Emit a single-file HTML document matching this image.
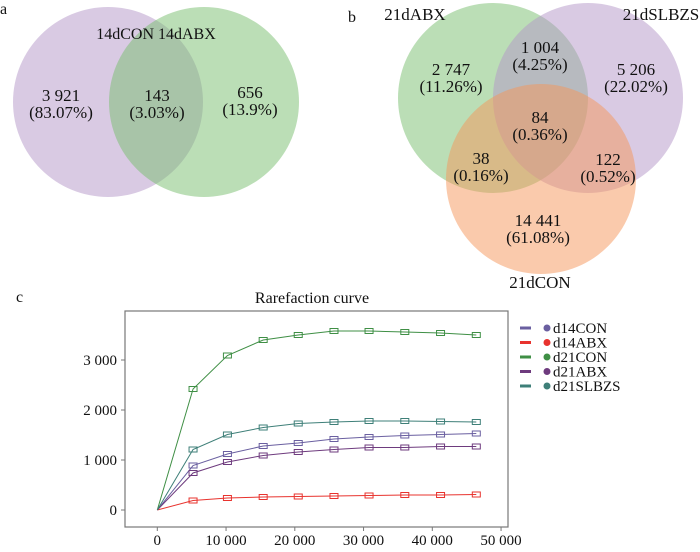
<!DOCTYPE html>
<html><head><meta charset="utf-8"><style>
body{margin:0;background:#fff}
svg text{font-family:"Liberation Serif",serif;fill:#111}
</style></head><body>
<svg width="700" height="547" viewBox="0 0 700 547">
<g>
<ellipse cx="108" cy="102" rx="95" ry="95" fill="rgb(180,150,200)" fill-opacity="0.5"/>
<ellipse cx="204" cy="102" rx="95" ry="95" fill="rgb(120,190,110)" fill-opacity="0.5"/>
<text x="0" y="14" font-size="16">a</text>
<text x="156" y="39" font-size="16" text-anchor="middle">14dCON 14dABX</text>
<g font-size="17" text-anchor="middle">
<text x="61" y="101">3 921<tspan x="61" dy="17">(83.07%)</tspan></text>
<text x="157" y="101">143<tspan x="157" dy="17">(3.03%)</tspan></text>
<text x="250" y="98">656<tspan x="250" dy="17">(13.9%)</tspan></text>
</g></g>
<g>
<ellipse cx="493" cy="98" rx="95" ry="95" fill="rgb(120,190,110)" fill-opacity="0.5"/>
<ellipse cx="588" cy="98" rx="95" ry="95" fill="rgb(180,150,200)" fill-opacity="0.5"/>
<ellipse cx="541" cy="179" rx="95" ry="95" fill="rgb(245,150,90)" fill-opacity="0.5"/>
<text x="348" y="22" font-size="16">b</text>
<g font-size="17" text-anchor="middle">
<text x="415" y="20">21dABX</text>
<text x="661" y="20">21dSLBZS</text>
<text x="540" y="288">21dCON</text>
<text x="540" y="53">1 004<tspan x="540" dy="17">(4.25%)</tspan></text>
<text x="451" y="75">2 747<tspan x="451" dy="17">(11.26%)</tspan></text>
<text x="636" y="75">5 206<tspan x="636" dy="17">(22.02%)</tspan></text>
<text x="540" y="123">84<tspan x="540" dy="17">(0.36%)</tspan></text>
<text x="481" y="164">38<tspan x="481" dy="17">(0.16%)</tspan></text>
<text x="608" y="165">122<tspan x="608" dy="17">(0.52%)</tspan></text>
<text x="538" y="226">14 441<tspan x="538" dy="17">(61.08%)</tspan></text>
</g></g>
<text x="16" y="302" font-size="16">c</text>
<text x="312" y="303" font-size="16" text-anchor="middle">Rarefaction curve</text>
<rect x="125" y="311" width="383" height="216" fill="none" stroke="#777" stroke-width="1.2"/>
<g id="axes"></g>
<g id="series"></g>
<g id="legend"></g>
</svg>
<script>
const xs=[0,5200,10200,15400,20500,25700,30800,36000,41200,46400];
const seriesNames=["d14CON","d14ABX","d21CON","d21ABX","d21SLBZS"];
const d14CON=[0,890,1120,1280,1340,1420,1460,1490,1510,1530];
const d14ABX=[0,190,240,260,270,280,290,300,300,310];
const d21CON=[0,2420,3090,3400,3500,3580,3580,3560,3540,3500];
const d21ABX=[0,740,960,1090,1160,1210,1250,1250,1270,1270];
const d21SLBZS=[0,1210,1510,1650,1730,1760,1780,1780,1770,1760];
const xTicks=[0,10000,20000,30000,40000,50000];
const xTickLabels=["0","10 000","20 000","30 000","40 000","50 000"];
const yTicks=[0,1000,2000,3000];
const yTickLabels=["0","1 000","2 000","3 000"];
const NS="http://www.w3.org/2000/svg";
const colors=["#6a5fa0","#e8332e","#3f8f45","#6e3b7e","#3e7f78"];
const fx=v=>157.3+v*0.006875;
const fy=v=>510-v*0.05;
function mk(t,a,p){const e=document.createElementNS(NS,t);for(const k in a)e.setAttribute(k,a[k]);p.appendChild(e);return e;}
const ax=document.getElementById('axes');
xTicks.forEach((t,i)=>{
  const l=mk('line',{x1:fx(t),x2:fx(t),y1:527,y2:531,stroke:'#777'},ax);
  
  
  const tx=mk('text',{x:fx(t),y:545,'font-size':15,'text-anchor':'middle'},ax);
  tx.textContent=xTickLabels[i];
  
  
});
yTicks.forEach((t,i)=>{
  const l=mk('line',{x1:121,x2:125,y1:fy(t),y2:fy(t),stroke:'#777'},ax);
  
  
  const tx=mk('text',{x:117,y:fy(t)+5,'font-size':15,'text-anchor':'end'},ax);
  tx.textContent=yTickLabels[i];
  
  
});
const sg=document.getElementById('series');
[d14CON,d14ABX,d21CON,d21ABX,d21SLBZS].forEach((arr,si)=>{
  const c=colors[si];
  const pl=mk('polyline',{points:arr.map((v,i)=>fx(xs[i])+','+fy(v)).join(' '),fill:'none',stroke:c,'stroke-width':1},sg);
  
  
  arr.forEach((v,i)=>{if(i===0)return;
    const r=mk('rect',{x:fx(xs[i])-4,y:fy(v)-2.5,width:8,height:5,fill:'none',stroke:c,'stroke-width':1},sg);
    
    
  });
});
const lg=document.getElementById('legend');
seriesNames.forEach((n,i)=>{
  const y=328+i*14.5;
  const l=mk('line',{x1:520,x2:531,y1:y,y2:y,stroke:colors[i],'stroke-width':3},lg);
  
  
  const c=mk('circle',{cx:547,cy:y,r:3.5,fill:colors[i]},lg);
  
  
  const t=mk('text',{x:553,y:y+5,'font-size':15},lg);
  t.textContent=n;
  
  
});
</script>
</body></html>
